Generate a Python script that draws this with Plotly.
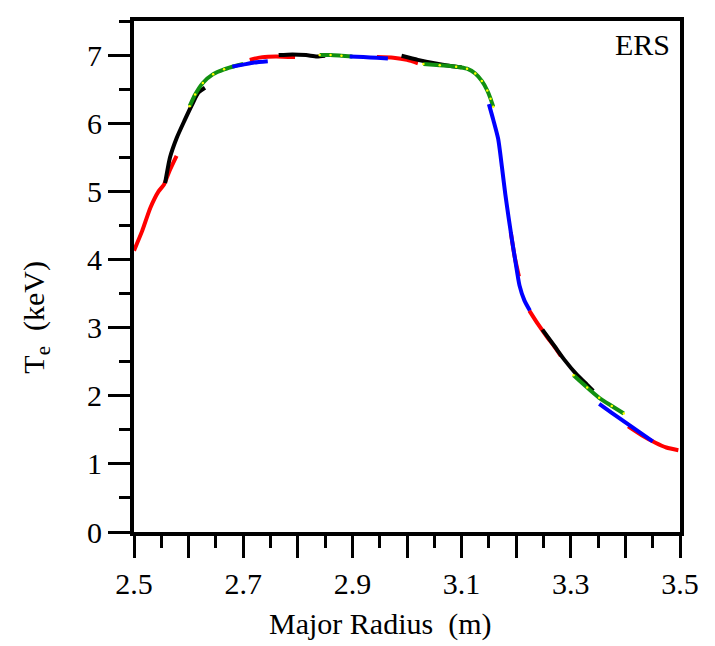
import plotly.graph_objects as go

# Major radius (m) and Te (keV) for each coloured profile; None separates pieces
red_R = [2.500, 2.515, 2.530, 2.545, 2.555, 2.565, 2.578, None,
         2.712, 2.735, 2.760, 2.795, None,
         2.945, 2.975, 3.000, 3.020, None,
         3.190, 3.197, 3.205, None,
         3.224, 3.240, 3.255, 3.270, 3.282, None,
         3.405, 3.430, 3.455, 3.475, 3.497]
red_Te = [4.13, 4.42, 4.76, 5.00, 5.10, 5.30, 5.52, None,
          6.93, 6.97, 6.98, 6.97, None,
          6.97, 6.96, 6.93, 6.88, None,
          4.40, 4.05, 3.75, None,
          3.25, 3.05, 2.88, 2.72, 2.58, None,
          1.55, 1.42, 1.31, 1.24, 1.20]

black_R = [2.557, 2.566, 2.578, 2.592, 2.608, 2.618, 2.630, None,
           2.765, 2.790, 2.815, 2.835, 2.850, None,
           2.990, 3.020, 3.050, 3.080, 3.100, None,
           3.248, 3.270, 3.288, 3.311, 3.330, 3.341]
black_Te = [5.12, 5.50, 5.78, 6.03, 6.30, 6.45, 6.52, None,
            7.00, 7.01, 7.00, 6.98, 6.99, None,
            6.99, 6.93, 6.88, 6.84, 6.82, None,
            2.97, 2.73, 2.53, 2.31, 2.16, 2.07]

green_R = [2.602, 2.612, 2.626, 2.645, 2.665, 2.685, 2.700, None,
           2.840, 2.860, 2.880, 2.900, None,
           3.030, 3.060, 3.090, 3.110, 3.125, 3.137, 3.147, 3.153, 3.158, None,
           3.305, 3.330, 3.352, 3.375, 3.397]
green_Te = [6.25, 6.42, 6.59, 6.72, 6.79, 6.84, 6.87, None,
            7.00, 7.00, 6.99, 6.98, None,
            6.87, 6.85, 6.83, 6.80, 6.73, 6.62, 6.48, 6.36, 6.24, None,
            2.30, 2.12, 1.97, 1.85, 1.74]

blue_R = [2.680, 2.700, 2.720, 2.745, None,
          2.895, 2.920, 2.945, 2.965, None,
          3.150, 3.158, 3.167, 3.174, 3.180, 3.186, 3.192, 3.198, 3.206, 3.215, 3.225, None,
          3.352, 3.375, 3.400, 3.425, 3.450]
blue_Te = [6.83, 6.86, 6.89, 6.91, None,
           6.98, 6.97, 6.96, 6.95, None,
           6.28, 6.05, 5.77, 5.35, 4.96, 4.62, 4.30, 4.00, 3.62, 3.40, 3.25, None,
           1.88, 1.75, 1.61, 1.47, 1.33]

x_tickvals = [2.5, 2.6, 2.7, 2.8, 2.9, 3.0, 3.1, 3.2, 3.3, 3.4, 3.5]
x_ticktext = ["2.5", " ", "2.7", " ", "2.9", " ", "3.1", " ", "3.3", " ", "3.5"]
y_tickvals = [0, 1, 2, 3, 4, 5, 6, 7]
y_ticktext = ["0", "1", "2", "3", "4", "5", "6", "7"]

FONT = "Liberation Serif"

fig = go.Figure()
fig.add_trace(go.Scatter(x=red_R, y=red_Te, mode="lines", connectgaps=False,
                         line=dict(color="#ff0000", width=4, shape="spline", smoothing=0.6)))
fig.add_trace(go.Scatter(x=black_R, y=black_Te, mode="lines", connectgaps=False,
                         line=dict(color="#000000", width=4, shape="spline", smoothing=0.6)))
fig.add_trace(go.Scatter(x=green_R, y=green_Te, mode="lines+markers", connectgaps=False,
                         line=dict(color="#119011", width=4, shape="spline", smoothing=0.6),
                         marker=dict(color="#ffff00", size=2.5, line=dict(width=0))))
fig.add_trace(go.Scatter(x=blue_R, y=blue_Te, mode="lines", connectgaps=False,
                         line=dict(color="#0000ff", width=4, shape="spline", smoothing=0.6)))

axis_common = dict(showline=True, linecolor="black", linewidth=4, mirror=True,
                   showgrid=False, zeroline=False, ticks="outside",
                   tickcolor="black", tickwidth=3,
                   tickfont=dict(family=FONT, size=30, color="black"))

fig.update_xaxes(range=[2.5, 3.5], tickmode="array", tickvals=x_tickvals,
                 ticktext=x_ticktext, ticklen=22,
                 minor=dict(dtick=0.05, tick0=2.5, ticks="outside", ticklen=12, tickwidth=3,
                            tickcolor="black", showgrid=False),
                 **axis_common)
fig.update_yaxes(range=[0, 7.5], tickmode="array", tickvals=y_tickvals,
                 ticktext=y_ticktext, ticklen=22,
                 minor=dict(dtick=0.5, tick0=0, ticks="outside", ticklen=11, tickwidth=3,
                            tickcolor="black", showgrid=False),
                 **axis_common)

fig.add_annotation(text="Major Radius  (m)", xref="paper", yref="paper",
                   x=0.45, y=-0.18, xanchor="center", yanchor="middle",
                   showarrow=False, font=dict(family=FONT, size=30, color="black"))
fig.add_annotation(text="T<sub>e</sub>  (keV)", xref="paper", yref="paper",
                   x=-0.179, y=0.42, xanchor="center", yanchor="middle",
                   textangle=-90, showarrow=False,
                   font=dict(family=FONT, size=30, color="black"))
fig.add_annotation(text="ERS", xref="paper", yref="paper",
                   x=0.985, y=0.99, xanchor="right", yanchor="top",
                   showarrow=False, font=dict(family=FONT, size=30, color="black"))

fig.update_layout(width=707, height=638, showlegend=False,
                  paper_bgcolor="white", plot_bgcolor="white",
                  margin=dict(l=126, r=35, t=9, b=114))

fig.write_html("out.html")
